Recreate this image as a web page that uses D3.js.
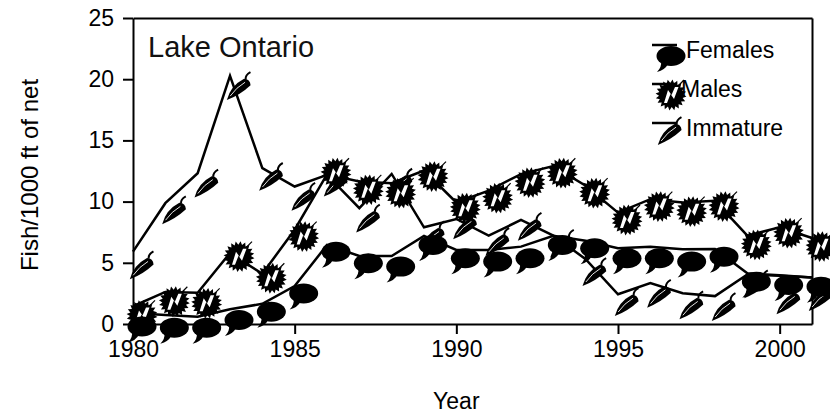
<!DOCTYPE html>
<html>
<head>
<meta charset="utf-8">
<script src="https://cdn.jsdelivr.net/npm/d3@7"></script>
<style>
  html, body { margin: 0; padding: 0; background: #fff; }
  svg { display: block; font-family: "Liberation Sans", Arial, sans-serif; }
</style>
</head>
<body>
<svg id="chart" width="830" height="418"></svg>
<script>
// ---- data ----
const years = [1980,1981,1982,1983,1984,1985,1986,1987,1988,1989,1990,1991,1992,1993,1994,1995,1996,1997,1998,1999,2000,2001];

// connecting lines
const femalesLine  = [0.9,0.73,0.6,1.2,1.65,3.1,6.45,5.56,5.56,7.2,6.05,6.05,6.32,7.2,6.8,6.19,6.32,6.11,6.13,4.15,3.98,3.8];
const malesLine    = [1.45,2.62,2.55,5.8,4.1,7.7,12.23,11.64,11.5,12.54,9.93,10.9,12.25,12.9,11.3,9.1,10.2,9.93,10.06,7.22,7.9,7.03];
const immatureLine = [5.91,9.87,12.32,20.28,12.73,11.23,12.18,9.46,12.26,7.9,8.58,7.22,8.5,7.22,5.3,2.43,3.34,2.52,2.28,4.05,3.95,3.8];

// symbol positions (symbol centres)
const femalesPts  = [-0.2,-0.3,-0.3,0.33,1.0,2.5,5.9,4.96,4.69,6.46,5.37,5.1,5.37,6.46,6.19,5.37,5.37,5.1,5.5,3.46,3.19,3.05];
const malesPts    = [0.7,1.82,1.69,5.5,3.74,7.14,12.32,10.96,10.69,12.04,9.46,10.28,11.55,12.32,10.69,8.5,9.59,9.18,9.59,6.46,7.42,6.32];
const immaturePts = [4.55,9.05,11.23,19.19,11.77,10.14,11.3,8.37,11.3,7.0,7.82,6.46,7.69,6.3,4.0,1.55,2.23,1.28,1.14,3.0,1.69,1.96];

const seriesNames = ["Females","Males","Immature"];
const yTicks = [0,5,10,15,20,25];
const xTicks = [1980,1985,1990,1995,2000];
const panelTitle = "Lake Ontario";
const xTitle = "Year";
const yTitle = "Fish/1000 ft of net";

// ---- chart ----
const svg = d3.select("#chart");
const x = d3.scaleLinear().domain([1980, 2001]).range([133, 812]);
const y = d3.scaleLinear().domain([0, 25]).range([324, 18]);
const FONT = 23;

// axes
const gx = svg.append("g").attr("transform", `translate(0,${y(0)})`)
  .call(d3.axisBottom(x).tickValues(xTicks).tickFormat(d3.format("d")).tickSize(10).tickSizeOuter(0).tickPadding(7));
const gy = svg.append("g").attr("transform", `translate(${x(1980)},0)`)
  .call(d3.axisLeft(y).tickValues(yTicks).tickSize(10).tickSizeOuter(0).tickPadding(9));
const gt = svg.append("g").attr("transform", `translate(0,${y(25)})`)
  .call(d3.axisTop(x).tickValues([]).tickSizeOuter(0));
const gr = svg.append("g").attr("transform", `translate(${x(2001)},0)`)
  .call(d3.axisRight(y).tickValues([]).tickSizeOuter(0));
[gx, gy, gt, gr].forEach(g => {
  g.selectAll(".domain").attr("stroke", "#000").attr("stroke-width", 2);
  g.selectAll(".tick line").attr("stroke", "#000").attr("stroke-width", 2);
  g.selectAll(".tick text").attr("fill", "#000").style("font-size", FONT + "px")
    .style("font-family", '"Liberation Sans", Arial, sans-serif');
});

// titles
svg.append("text").attr("x", 148).attr("y", 57).text(panelTitle)
  .style("font-size", "29px").attr("fill", "#111");
svg.append("text").attr("x", x(1990)).attr("y", 409).attr("text-anchor", "middle")
  .text(xTitle).style("font-size", FONT + "px");
svg.append("text").attr("transform", "translate(38,175) rotate(-90)").attr("text-anchor", "middle")
  .text(yTitle).style("font-size", "24px");

// lines
const line = d3.line().x((d, i) => x(years[i])).y(d => y(d));
[femalesLine, malesLine, immatureLine].forEach(arr => {
  svg.append("path").datum(arr).attr("d", line)
    .attr("fill", "none").attr("stroke", "#000").attr("stroke-width", 2.5).attr("stroke-linejoin", "miter");
});

// ---- symbols ----
function drawBubble(g) {
  g.append("ellipse").attr("rx", 14.5).attr("ry", 10).attr("fill", "#000");
  g.append("path").attr("d", "M-10,5 Q-9,11 -14,16 Q-6,14 -3,8 Z").attr("fill", "#000");
}
function burstPath(n, ro, ri) {
  const pts = [];
  for (let k = 0; k < 2 * n; k++) {
    const a = Math.PI * k / n + 0.1;
    const r = k % 2 === 0 ? ro : ri;
    pts.push([r * Math.cos(a), r * Math.sin(a)]);
  }
  return "M" + pts.map(p => p[0].toFixed(2) + "," + p[1].toFixed(2)).join("L") + "Z";
}
function drawBurst(g) {
  g.append("path").attr("d", burstPath(20, 15.5, 12)).attr("fill", "#000");
  g.append("path").attr("d", "M-7,8 L-3,-5 L0.5,0 L4,-8 L7.5,-8 L3,4 L-0.5,-1 L-4,8 Z")
    .attr("fill", "#fff");
  g.append("path").attr("d", "M7,-9 L13,-15").attr("stroke", "#000").attr("stroke-width", 1.2);
}
function drawPepper(g) {
  const h = g.append("g").attr("transform", "rotate(-33)");
  h.append("path").attr("d", "M-17,2 Q-6,-8 9,-6.5 Q14,-3 11,2.5 Q-3,5 -17,2 Z").attr("fill", "#000");
  h.append("path").attr("d", "M10,-5 Q12,-9 18,-8.5").attr("fill", "none").attr("stroke", "#000").attr("stroke-width", 2);
  h.append("path").attr("d", "M-12,0.5 Q-2,-3.5 8,-3").attr("fill", "none").attr("stroke", "#fff").attr("stroke-width", 0.8);
}

const symbolDx = 9;
function plotSymbols(arr, drawer, dx) {
  svg.append("g").selectAll("g").data(arr).join("g")
    .attr("transform", (d, i) => `translate(${x(years[i]) + dx},${y(d)})`)
    .each(function () { drawer(d3.select(this)); });
}
plotSymbols(immaturePts, drawPepper, symbolDx + 1);
plotSymbols(malesPts, drawBurst, symbolDx);
plotSymbols(femalesPts, drawBubble, symbolDx);

// ---- legend ----
const drawers = [drawBubble, drawBurst, drawPepper];
const textDx = [686, 681, 686];
seriesNames.forEach((name, i) => {
  const y0 = 45 + i * 39;
  svg.append("line").attr("x1", 652).attr("x2", 677).attr("y1", y0).attr("y2", y0)
    .attr("stroke", "#000").attr("stroke-width", 2.5);
  drawers[i](svg.append("g").attr("transform", `translate(671,${y0 + 11})`));
  svg.append("text").attr("x", textDx[i]).attr("y", y0 + 13).text(name).style("font-size", FONT + "px");
});
</script>
</body>
</html>
